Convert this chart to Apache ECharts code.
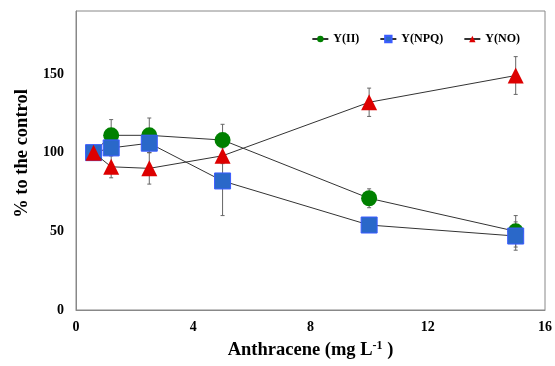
<!DOCTYPE html>
<html><head><meta charset="utf-8">
<script src="https://cdn.jsdelivr.net/npm/echarts@6/dist/echarts.min.js"></script>
<style>html,body{margin:0;padding:0;background:#fff}#c{width:555px;height:366px}</style>
</head><body><div id="c"></div>
<script>
const xs = [0.6, 1.2, 2.5, 5, 10, 15];
const yII = [100, 111, 111, 108, 71, 50];
const yIIerr = [0, 10, 11, 10, 6, 10];
const yNPQ = [100, 103, 106, 82, 54, 47];
const yNPQerr = [0, 5, 6, 22, 2, 9];
const yNO = [100, 91, 90, 98, 132, 149];
const yNOerr = [0, 7, 10, 5, 9, 12];
const xTicks = [0, 4, 8, 12, 16];
const yTicks = [0, 50, 100, 150];

const F = '"Liberation Serif","Times New Roman",serif';
function pairs(ys){ return xs.map((x,i)=>[x, ys[i]]); }
function errData(ys, es){ return xs.map((x,i)=>[x, ys[i]-es[i], ys[i]+es[i]]); }
function errSeries(ys, es, z){
  return {
    type:'custom', z:z, silent:true,
    data: errData(ys, es),
    renderItem: function(params, api){
      const x = api.value(0);
      const lo = api.coord([x, api.value(1)]);
      const hi = api.coord([x, api.value(2)]);
      const c = 2;
      const st = {stroke:'#666', lineWidth:1};
      return {type:'group', children:[
        {type:'line', shape:{x1:lo[0],y1:lo[1],x2:hi[0],y2:hi[1]}, style:st},
        {type:'line', shape:{x1:lo[0]-c,y1:lo[1],x2:lo[0]+c,y2:lo[1]}, style:st},
        {type:'line', shape:{x1:hi[0]-c,y1:hi[1],x2:hi[0]+c,y2:hi[1]}, style:st}
      ]};
    }
  };
}
const chart = echarts.init(document.getElementById('c'));
chart.setOption({
  animation:false,
  textStyle:{fontFamily:F},
  grid:{left:76, right:7, top:11, bottom:56, show:true, borderColor:'#888', borderWidth:1},
  legend:{
    data:['Y(II)','Y(NPQ)','Y(NO)'],
    top:28, right:30, itemWidth:16, itemHeight:8, itemGap:20,
    textStyle:{fontFamily:F, fontWeight:'bold', fontSize:12, color:'#000'}
  },
  xAxis:{
    type:'value', min:0, max:16, interval:4,
    axisLine:{lineStyle:{color:'#888'}}, axisTick:{show:false}, splitLine:{show:false},
    axisLabel:{fontFamily:F, fontWeight:'bold', fontSize:14, color:'#000', margin:10,
      formatter: v => xTicks.includes(v) ? String(v) : ''},
    name:'{n|Anthracene (mg L}{s|-1}{n| )}', nameLocation:'middle', nameGap:30,
    nameTextStyle:{rich:{
      n:{fontFamily:F, fontWeight:'bold', fontSize:18.5, color:'#000'},
      s:{fontFamily:F, fontWeight:'bold', fontSize:12, color:'#000', verticalAlign:'top', padding:[0,0,9,0]}
    }}
  },
  yAxis:{
    type:'value', min:0, max:190, interval:50,
    axisLine:{show:true, lineStyle:{color:'#888'}}, axisTick:{show:false}, splitLine:{show:false},
    axisLabel:{fontFamily:F, fontWeight:'bold', fontSize:14, color:'#000', margin:12, showMaxLabel:false,
      formatter: v => yTicks.includes(v) ? String(v) : ''},
    name:'% to the control', nameLocation:'middle', nameGap:44,
    nameTextStyle:{fontFamily:F, fontWeight:'bold', fontSize:18.5, color:'#000', padding:[0,0,0,14]}
  },
  series:[
    errSeries(yII, yIIerr, 1),
    errSeries(yNPQ, yNPQerr, 1),
    errSeries(yNO, yNOerr, 1),
    {name:'Y(II)', type:'line', data:pairs(yII), symbol:'circle', symbolSize:16, z:3,
      lineStyle:{color:'#333', width:1}, itemStyle:{color:'#008000'}},
    {name:'Y(NPQ)', type:'line', data:pairs(yNPQ), symbol:'rect', symbolSize:16, z:4,
      lineStyle:{color:'#333', width:1}, itemStyle:{color:'#2a68c9', borderColor:'#3b5cff', borderWidth:1}},
    {name:'Y(NO)', type:'line', data:pairs(yNO), symbol:'triangle', symbolSize:16, z:5,
      lineStyle:{color:'#333', width:1}, itemStyle:{color:'#dd0000'}}
  ]
});
</script></body></html>
